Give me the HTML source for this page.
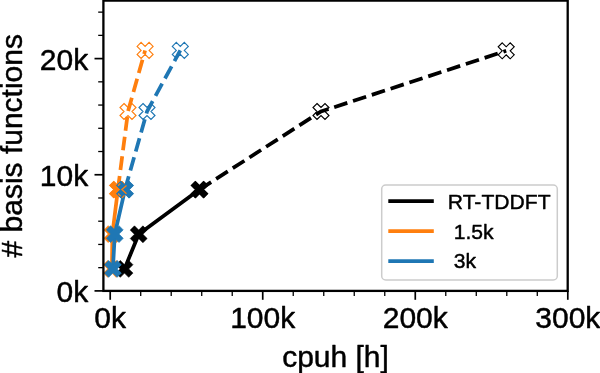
<!DOCTYPE html>
<html><head><meta charset="utf-8"><title>chart</title>
<style>html,body{margin:0;padding:0;background:#fff;width:600px;height:373px;overflow:hidden;font-family:"Liberation Sans",sans-serif}</style></head>
<body>
<svg width="600" height="373" viewBox="0 0 600 373" style="display:block;position:absolute;left:0;top:0;will-change:transform" font-family="Liberation Sans, sans-serif">
<rect width="600" height="373" fill="#fff"/>
<defs><clipPath id="ax"><rect x="103.4" y="0.6" width="464.30000000000007" height="290.29999999999995"/></clipPath></defs>
<g clip-path="url(#ax)">
<polyline fill="none" stroke="#000" stroke-width="3.75" stroke-linejoin="round" points="124.5,268.9 138.7,234.3 199.5,189.6"/>
<path d="M120.28,260.45 L124.50,264.67 L128.72,260.45 L132.95,264.67 L128.72,268.90 L132.95,273.12 L128.72,277.35 L124.50,273.12 L120.28,277.35 L116.05,273.12 L120.28,268.90 L116.05,264.67Z" fill="#000" stroke="#000" stroke-width="0.6"/>
<path d="M134.47,225.85 L138.70,230.08 L142.92,225.85 L147.15,230.08 L142.92,234.30 L147.15,238.53 L142.92,242.75 L138.70,238.53 L134.47,242.75 L130.25,238.53 L134.47,234.30 L130.25,230.08Z" fill="#000" stroke="#000" stroke-width="0.6"/>
<path d="M195.28,181.15 L199.50,185.38 L203.72,181.15 L207.95,185.38 L203.72,189.60 L207.95,193.82 L203.72,198.05 L199.50,193.82 L195.28,198.05 L191.05,193.82 L195.28,189.60 L191.05,185.38Z" fill="#000" stroke="#000" stroke-width="0.6"/>
<polyline fill="none" stroke="#000" stroke-width="3.75" stroke-dasharray="13.82 5.97" points="199.5,189.6 321,111.5 506.2,50.8"/>
<path d="M195.50,181.60 L199.50,185.60 L203.50,181.60 L207.50,185.60 L203.50,189.60 L207.50,193.60 L203.50,197.60 L199.50,193.60 L195.50,197.60 L191.50,193.60 L195.50,189.60 L191.50,185.60Z" fill="none" stroke="#000" stroke-width="1.15"/>
<path d="M317.00,103.50 L321.00,107.50 L325.00,103.50 L329.00,107.50 L325.00,111.50 L329.00,115.50 L325.00,119.50 L321.00,115.50 L317.00,119.50 L313.00,115.50 L317.00,111.50 L313.00,107.50Z" fill="none" stroke="#000" stroke-width="1.15"/>
<path d="M502.20,42.80 L506.20,46.80 L510.20,42.80 L514.20,46.80 L510.20,50.80 L514.20,54.80 L510.20,58.80 L506.20,54.80 L502.20,58.80 L498.20,54.80 L502.20,50.80 L498.20,46.80Z" fill="none" stroke="#000" stroke-width="1.15"/>
<polyline fill="none" stroke="#ff7f0e" stroke-width="3.75" stroke-linejoin="round" points="111.9,268.9 112.4,234.1 117.9,189.6"/>
<path d="M107.68,260.45 L111.90,264.67 L116.12,260.45 L120.35,264.67 L116.12,268.90 L120.35,273.12 L116.12,277.35 L111.90,273.12 L107.68,277.35 L103.45,273.12 L107.68,268.90 L103.45,264.67Z" fill="#ff7f0e" stroke="#ff7f0e" stroke-width="0.6"/>
<path d="M108.18,225.65 L112.40,229.88 L116.62,225.65 L120.85,229.88 L116.62,234.10 L120.85,238.32 L116.62,242.55 L112.40,238.32 L108.18,242.55 L103.95,238.32 L108.18,234.10 L103.95,229.88Z" fill="#ff7f0e" stroke="#ff7f0e" stroke-width="0.6"/>
<path d="M113.68,181.15 L117.90,185.38 L122.12,181.15 L126.35,185.38 L122.12,189.60 L126.35,193.82 L122.12,198.05 L117.90,193.82 L113.68,198.05 L109.45,193.82 L113.68,189.60 L109.45,185.38Z" fill="#ff7f0e" stroke="#ff7f0e" stroke-width="0.6"/>
<polyline fill="none" stroke="#ff7f0e" stroke-width="3.75" stroke-dasharray="13.82 5.97" points="117.9,189.6 128,111.5 145.1,50.4"/>
<path d="M113.90,181.60 L117.90,185.60 L121.90,181.60 L125.90,185.60 L121.90,189.60 L125.90,193.60 L121.90,197.60 L117.90,193.60 L113.90,197.60 L109.90,193.60 L113.90,189.60 L109.90,185.60Z" fill="none" stroke="#ff7f0e" stroke-width="1.15"/>
<path d="M124.00,103.50 L128.00,107.50 L132.00,103.50 L136.00,107.50 L132.00,111.50 L136.00,115.50 L132.00,119.50 L128.00,115.50 L124.00,119.50 L120.00,115.50 L124.00,111.50 L120.00,107.50Z" fill="none" stroke="#ff7f0e" stroke-width="1.15"/>
<path d="M141.10,42.40 L145.10,46.40 L149.10,42.40 L153.10,46.40 L149.10,50.40 L153.10,54.40 L149.10,58.40 L145.10,54.40 L141.10,58.40 L137.10,54.40 L141.10,50.40 L137.10,46.40Z" fill="none" stroke="#ff7f0e" stroke-width="1.15"/>
<polyline fill="none" stroke="#1f77b4" stroke-width="3.75" stroke-linejoin="round" points="112.9,268.9 114.8,234.1 125,189.6"/>
<path d="M108.68,260.45 L112.90,264.67 L117.12,260.45 L121.35,264.67 L117.12,268.90 L121.35,273.12 L117.12,277.35 L112.90,273.12 L108.68,277.35 L104.45,273.12 L108.68,268.90 L104.45,264.67Z" fill="#1f77b4" stroke="#1f77b4" stroke-width="0.6"/>
<path d="M110.58,225.65 L114.80,229.88 L119.02,225.65 L123.25,229.88 L119.02,234.10 L123.25,238.32 L119.02,242.55 L114.80,238.32 L110.58,242.55 L106.35,238.32 L110.58,234.10 L106.35,229.88Z" fill="#1f77b4" stroke="#1f77b4" stroke-width="0.6"/>
<path d="M120.78,181.15 L125.00,185.38 L129.22,181.15 L133.45,185.38 L129.22,189.60 L133.45,193.82 L129.22,198.05 L125.00,193.82 L120.78,198.05 L116.55,193.82 L120.78,189.60 L116.55,185.38Z" fill="#1f77b4" stroke="#1f77b4" stroke-width="0.6"/>
<polyline fill="none" stroke="#1f77b4" stroke-width="3.75" stroke-dasharray="13.82 5.97" points="125,189.6 147,111.5 180.3,50.4"/>
<path d="M121.00,181.60 L125.00,185.60 L129.00,181.60 L133.00,185.60 L129.00,189.60 L133.00,193.60 L129.00,197.60 L125.00,193.60 L121.00,197.60 L117.00,193.60 L121.00,189.60 L117.00,185.60Z" fill="none" stroke="#1f77b4" stroke-width="1.15"/>
<path d="M143.00,103.50 L147.00,107.50 L151.00,103.50 L155.00,107.50 L151.00,111.50 L155.00,115.50 L151.00,119.50 L147.00,115.50 L143.00,119.50 L139.00,115.50 L143.00,111.50 L139.00,107.50Z" fill="none" stroke="#1f77b4" stroke-width="1.15"/>
<path d="M176.30,42.40 L180.30,46.40 L184.30,42.40 L188.30,46.40 L184.30,50.40 L188.30,54.40 L184.30,58.40 L180.30,54.40 L176.30,58.40 L172.30,54.40 L176.30,50.40 L172.30,46.40Z" fill="none" stroke="#1f77b4" stroke-width="1.15"/>
<path d="M118.0,185.7 L120.3,183.5 M126.5,185.4 L121.9,189.6 L126.5,193.8 M118.0,193.5 L120.6,196.1 M121.9,197.9 L124.5,195.4" fill="none" stroke="#ff7f0e" stroke-width="1.3"/>
</g>
<line x1="110.20" y1="290.9" x2="110.20" y2="299.80" stroke="#000" stroke-width="1.7"/>
<line x1="140.71" y1="290.9" x2="140.71" y2="296.10" stroke="#000" stroke-width="1.3"/>
<line x1="171.21" y1="290.9" x2="171.21" y2="296.10" stroke="#000" stroke-width="1.3"/>
<line x1="201.72" y1="290.9" x2="201.72" y2="296.10" stroke="#000" stroke-width="1.3"/>
<line x1="232.23" y1="290.9" x2="232.23" y2="296.10" stroke="#000" stroke-width="1.3"/>
<line x1="262.73" y1="290.9" x2="262.73" y2="299.80" stroke="#000" stroke-width="1.7"/>
<line x1="293.24" y1="290.9" x2="293.24" y2="296.10" stroke="#000" stroke-width="1.3"/>
<line x1="323.75" y1="290.9" x2="323.75" y2="296.10" stroke="#000" stroke-width="1.3"/>
<line x1="354.25" y1="290.9" x2="354.25" y2="296.10" stroke="#000" stroke-width="1.3"/>
<line x1="384.76" y1="290.9" x2="384.76" y2="296.10" stroke="#000" stroke-width="1.3"/>
<line x1="415.27" y1="290.9" x2="415.27" y2="299.80" stroke="#000" stroke-width="1.7"/>
<line x1="445.77" y1="290.9" x2="445.77" y2="296.10" stroke="#000" stroke-width="1.3"/>
<line x1="476.28" y1="290.9" x2="476.28" y2="296.10" stroke="#000" stroke-width="1.3"/>
<line x1="506.79" y1="290.9" x2="506.79" y2="296.10" stroke="#000" stroke-width="1.3"/>
<line x1="537.29" y1="290.9" x2="537.29" y2="296.10" stroke="#000" stroke-width="1.3"/>
<line x1="567.80" y1="290.9" x2="567.80" y2="299.80" stroke="#000" stroke-width="1.7"/>
<line x1="103.4" y1="290.90" x2="94.50" y2="290.90" stroke="#000" stroke-width="1.7"/>
<line x1="103.4" y1="267.67" x2="98.20" y2="267.67" stroke="#000" stroke-width="1.3"/>
<line x1="103.4" y1="244.44" x2="98.20" y2="244.44" stroke="#000" stroke-width="1.3"/>
<line x1="103.4" y1="221.21" x2="98.20" y2="221.21" stroke="#000" stroke-width="1.3"/>
<line x1="103.4" y1="197.98" x2="98.20" y2="197.98" stroke="#000" stroke-width="1.3"/>
<line x1="103.4" y1="174.75" x2="94.50" y2="174.75" stroke="#000" stroke-width="1.7"/>
<line x1="103.4" y1="151.52" x2="98.20" y2="151.52" stroke="#000" stroke-width="1.3"/>
<line x1="103.4" y1="128.29" x2="98.20" y2="128.29" stroke="#000" stroke-width="1.3"/>
<line x1="103.4" y1="105.06" x2="98.20" y2="105.06" stroke="#000" stroke-width="1.3"/>
<line x1="103.4" y1="81.83" x2="98.20" y2="81.83" stroke="#000" stroke-width="1.3"/>
<line x1="103.4" y1="58.60" x2="94.50" y2="58.60" stroke="#000" stroke-width="1.7"/>
<line x1="103.4" y1="35.37" x2="98.20" y2="35.37" stroke="#000" stroke-width="1.3"/>
<line x1="103.4" y1="12.14" x2="98.20" y2="12.14" stroke="#000" stroke-width="1.3"/>
<rect x="103.4" y="0.6" width="464.30" height="290.30" fill="none" stroke="#000" stroke-width="2.3"/>
<text stroke="#000" stroke-width="0.45" stroke-linejoin="round" x="110.20" y="327.8" font-size="30" text-anchor="middle">0k</text>
<text stroke="#000" stroke-width="0.45" stroke-linejoin="round" x="262.73" y="327.8" font-size="30" text-anchor="middle">100k</text>
<text stroke="#000" stroke-width="0.45" stroke-linejoin="round" x="415.27" y="327.8" font-size="30" text-anchor="middle">200k</text>
<text stroke="#000" stroke-width="0.45" stroke-linejoin="round" x="567.80" y="327.8" font-size="30" text-anchor="middle">300k</text>
<text stroke="#000" stroke-width="0.45" stroke-linejoin="round" x="88.2" y="302.30" font-size="30" text-anchor="end">0k</text>
<text stroke="#000" stroke-width="0.45" stroke-linejoin="round" x="88.2" y="186.15" font-size="30" text-anchor="end">10k</text>
<text stroke="#000" stroke-width="0.45" stroke-linejoin="round" x="88.2" y="70.00" font-size="30" text-anchor="end">20k</text>
<text stroke="#000" stroke-width="0.45" stroke-linejoin="round" x="335.5" y="367.0" font-size="30" text-anchor="middle">cpuh [h]</text>
<text stroke="#000" stroke-width="0.45" stroke-linejoin="round" transform="translate(21.5,145.75) rotate(-90)" font-size="30" text-anchor="middle"># basis functions</text>
<rect x="381.7" y="185" width="175.6" height="95" rx="4" ry="4" fill="#fff" fill-opacity="0.8" stroke="#ccc" stroke-width="1.5"/>
<line x1="388.3" y1="201.1" x2="433.8" y2="201.1" stroke="#000" stroke-width="3.75"/>
<text stroke="#000" stroke-width="0.45" stroke-linejoin="round" x="447.8" y="208.5" font-size="21.1" xml:space="preserve">RT-TDDFT</text>
<line x1="388.3" y1="231.1" x2="433.8" y2="231.1" stroke="#ff7f0e" stroke-width="3.75"/>
<text stroke="#000" stroke-width="0.45" stroke-linejoin="round" x="447.8" y="238.6" font-size="21.1" xml:space="preserve"> 1.5k</text>
<line x1="388.3" y1="261.1" x2="433.8" y2="261.1" stroke="#1f77b4" stroke-width="3.75"/>
<text stroke="#000" stroke-width="0.45" stroke-linejoin="round" x="447.8" y="268.3" font-size="21.1" xml:space="preserve"> 3k</text>
</svg>
</body></html>
